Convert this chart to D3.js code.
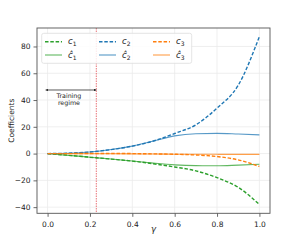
<!DOCTYPE html>
<html>
<head>
<meta charset="utf-8">
<script src="https://cdn.jsdelivr.net/npm/d3@7"></script>
<style>
  body { margin: 0; background: #fff; }
  text { font-family: "DejaVu Sans", sans-serif; fill: #222; }
</style>
</head>
<body>
<div id="chart"></div>
<script>
// gamma grid and coefficient values
var gammas = [0, 0.1, 0.2, 0.3, 0.4, 0.5, 0.6, 0.7, 0.8, 0.9, 1.0];
var c1    = [0, -1.3, -2.7, -4.1, -5.6, -7.6, -10.0, -12.9, -18.0, -25.2, -38.0];
var c1hat = [0, -1.3, -2.7, -4.1, -5.5, -7.1, -8.4, -9.0, -9.1, -8.6, -8.0];
var c2    = [0, 0.3, 1.2, 3.0, 5.6, 9.4, 15.0, 21.5, 34.0, 51.0, 87.5];
var c2hat = [0, 0.3, 1.2, 3.0, 5.6, 9.4, 13.2, 14.8, 15.1, 14.6, 14.0];
var c3    = [0, 0, 0.1, 0.1, 0, -0.2, -0.5, -1.0, -2.2, -4.7, -9.6];
var c3hat = [0, -0.05, -0.1, -0.15, -0.25, -0.35, -0.45, -0.5, -0.55, -0.6, -0.6];
var xTicks = [0, 0.2, 0.4, 0.6, 0.8, 1.0];
var yTicks = [-40, -20, 0, 20, 40, 60, 80];
var trainEnd = 0.23;
var arrowLevel = 47.5;

var series = [
  {name: "c", sub: "1", hat: false, color: "#2ca02c", values: c1},
  {name: "c", sub: "1", hat: true,  color: "#2ca02c", values: c1hat},
  {name: "c", sub: "2", hat: false, color: "#1f77b4", values: c2},
  {name: "c", sub: "2", hat: true,  color: "#1f77b4", values: c2hat},
  {name: "c", sub: "3", hat: false, color: "#ff7f0e", values: c3},
  {name: "c", sub: "3", hat: true,  color: "#ff7f0e", values: c3hat}
];

var width = 300, height = 240;
var margin = {top: 28, right: 30, bottom: 26.7, left: 37};

var svg = d3.select("#chart").append("svg")
    .attr("width", width)
    .attr("height", height);

var x = d3.scaleLinear().domain([-0.05, 1.05])
    .range([margin.left, width - margin.right]);
var y = d3.scaleLinear().domain([-44.6, 93.8])
    .range([height - margin.bottom, margin.top]);

// grid
svg.append("g").selectAll("line").data(xTicks).enter().append("line")
    .attr("x1", function(d) { return x(d); }).attr("x2", function(d) { return x(d); })
    .attr("y1", y.range()[1]).attr("y2", y.range()[0])
    .attr("stroke", "#ebebeb").attr("stroke-width", 0.8);
svg.append("g").selectAll("line").data(yTicks).enter().append("line")
    .attr("y1", function(d) { return y(d); }).attr("y2", function(d) { return y(d); })
    .attr("x1", x.range()[0]).attr("x2", x.range()[1])
    .attr("stroke", "#ebebeb").attr("stroke-width", 0.8);

// axes
var xAxis = svg.append("g")
    .attr("transform", "translate(0," + y.range()[0] + ")")
    .call(d3.axisBottom(x).tickValues(xTicks).tickFormat(d3.format(".1f")).tickSizeOuter(0).tickSize(3.5));
var yAxis = svg.append("g")
    .attr("transform", "translate(" + x.range()[0] + ",0)")
    .call(d3.axisLeft(y).tickValues(yTicks).tickFormat(function(d) {
      return d < 0 ? "\u2212" + Math.abs(d) : d;
    }).tickSizeOuter(0).tickSize(3.5));
[xAxis, yAxis].forEach(function(a) {
  a.select(".domain").remove();
  a.selectAll(".tick line").attr("stroke", "#444").attr("stroke-width", 0.8);
  a.selectAll(".tick text").attr("font-size", 7.5).attr("fill", "#222")
    .attr("font-family", "DejaVu Sans, sans-serif");
});
xAxis.selectAll(".tick text").attr("dy", "0.9em");

var line = d3.line()
    .x(function(d, i) { return x(gammas[i]); })
    .y(function(d) { return y(d); })
    .curve(d3.curveMonotoneX);

var plot = svg.append("g");

// training boundary
plot.append("line")
    .attr("x1", x(trainEnd)).attr("x2", x(trainEnd))
    .attr("y1", y.range()[1]).attr("y2", y.range()[0])
    .attr("stroke", "#e0454a").attr("stroke-opacity", 0.75)
    .attr("stroke-width", 1).attr("stroke-dasharray", "1.5,1");

// solid fits first, then dashed truth on top
series.filter(function(s) { return s.hat; }).forEach(function(s) {
  plot.append("path").datum(s.values)
      .attr("d", line).attr("fill", "none")
      .attr("stroke", s.color).attr("stroke-opacity", 0.75)
      .attr("stroke-width", 1.1);
});
series.filter(function(s) { return !s.hat; }).forEach(function(s) {
  plot.append("path").datum(s.values)
      .attr("d", line).attr("fill", "none")
      .attr("stroke", s.color).attr("stroke-width", 1.4)
      .attr("stroke-dasharray", "3.5,1.8");
});

// frame
svg.append("rect")
    .attr("x", x.range()[0]).attr("y", y.range()[1])
    .attr("width", x.range()[1] - x.range()[0])
    .attr("height", y.range()[0] - y.range()[1])
    .attr("fill", "none").attr("stroke", "#555").attr("stroke-width", 0.9);

// training regime arrow
var defs = svg.append("defs");
["start", "end"].forEach(function(k) {
  defs.append("marker").attr("id", "arr-" + k)
      .attr("viewBox", "0 0 10 10").attr("refX", k == "end" ? 9 : 1).attr("refY", 5)
      .attr("markerWidth", 4).attr("markerHeight", 4)
      .attr("orient", "auto-start-reverse")
      .append("path").attr("d", "M0,1 L10,5 L0,9 z").attr("fill", "#111");
});
svg.append("line")
    .attr("x1", x(0)).attr("x2", x(trainEnd))
    .attr("y1", y(arrowLevel)).attr("y2", y(arrowLevel))
    .attr("stroke", "#111").attr("stroke-width", 0.7)
    .attr("marker-start", "url(#arr-start)").attr("marker-end", "url(#arr-end)");
var tx = (x(0) + x(trainEnd)) / 2 - 3;
svg.append("text").attr("x", tx).attr("y", y(arrowLevel) + 8.5)
    .attr("text-anchor", "middle").attr("font-size", 6.3).text("Training");
svg.append("text").attr("x", tx).attr("y", y(arrowLevel) + 15.5)
    .attr("text-anchor", "middle").attr("font-size", 6.3).text("regime");

// legend
var lg = svg.append("g");
lg.append("rect").attr("x", 41.7).attr("y", 33.3).attr("width", 150).attr("height", 30)
    .attr("rx", 2).attr("fill", "#fff").attr("fill-opacity", 0.85)
    .attr("stroke", "#ddd").attr("stroke-width", 0.8);
series.forEach(function(s, i) {
  var col = Math.floor(i / 2), row = i % 2;
  var lx = 45 + col * 54, ly = 41.7 + row * 13.3;
  lg.append("line").attr("x1", lx).attr("x2", lx + 17).attr("y1", ly).attr("y2", ly)
      .attr("stroke", s.color)
      .attr("stroke-width", s.hat ? 1.1 : 1.4)
      .attr("stroke-opacity", s.hat ? 0.75 : 1)
      .attr("stroke-dasharray", s.hat ? null : "3.5,1.8");
  var t = lg.append("text").attr("x", lx + 23).attr("y", ly + 2.5).attr("font-size", 8.5);
  t.append("tspan").attr("font-style", "italic").text(s.hat ? "\u0109" : s.name);
  t.append("tspan").attr("font-size", 6).attr("dy", 2).text(s.sub);
});

// axis titles
svg.append("text").attr("transform", "translate(14," + (y.range()[0] + y.range()[1]) / 2 + ") rotate(-90)")
    .attr("text-anchor", "middle").attr("font-size", 7.5).text("Coefficients");
svg.append("text").attr("x", (x.range()[0] + x.range()[1]) / 2).attr("y", 232)
    .attr("text-anchor", "middle").attr("font-size", 8.5).attr("font-style", "italic").text("\u03b3");
</script>
</body>
</html>
